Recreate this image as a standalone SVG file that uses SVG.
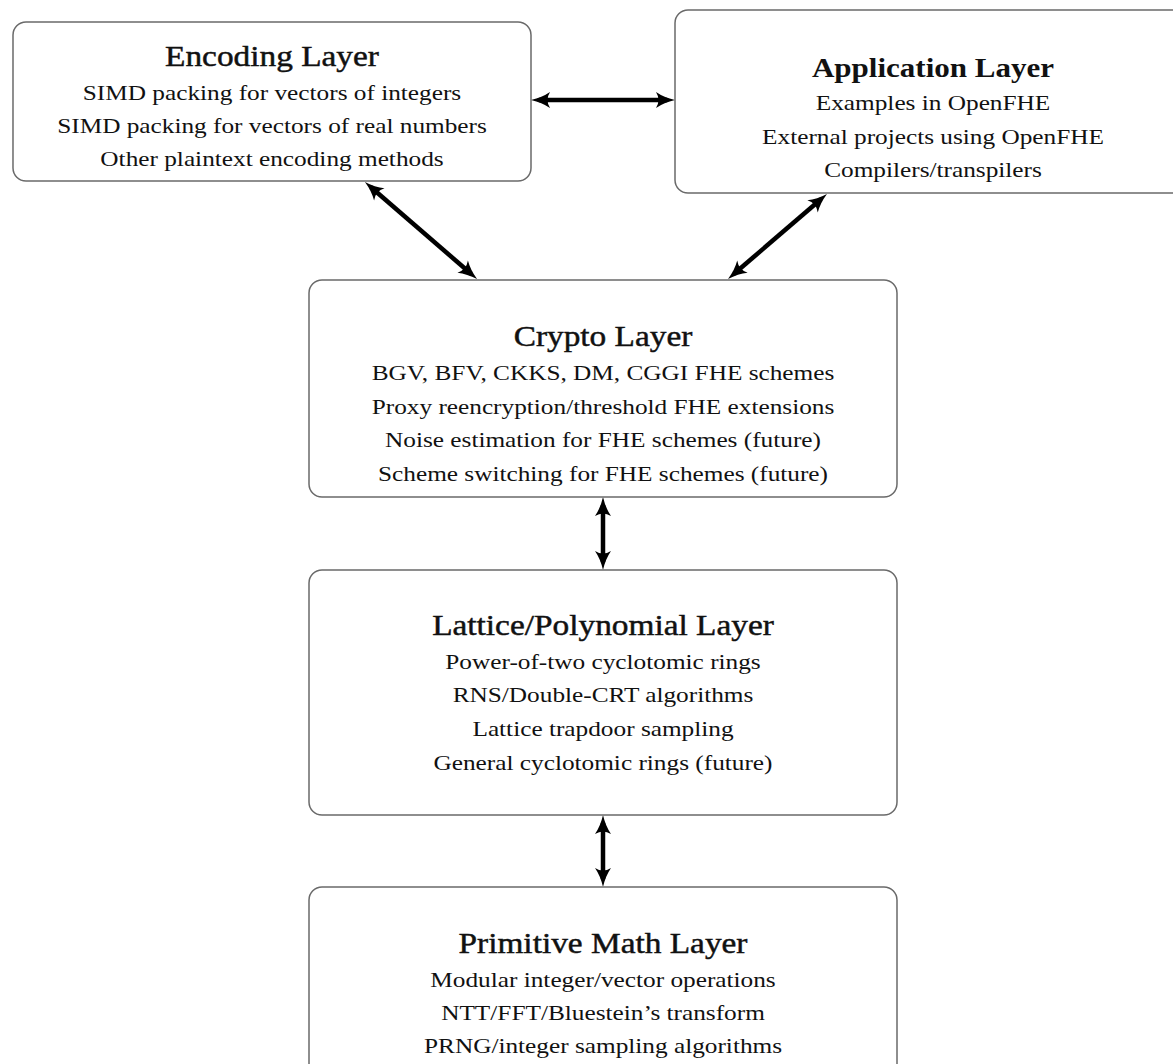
<svg xmlns="http://www.w3.org/2000/svg" width="1173" height="1064" viewBox="0 0 1173 1064">
<defs>
<style>
.box{fill:#ffffff;stroke:#6a6a6a;stroke-width:1.5}
.t{font-family:"Liberation Serif","Times New Roman",serif;fill:#111111;text-anchor:middle}
.title{font-size:29px;stroke:#111111;stroke-width:0.45}
.titleb{font-size:27px;font-weight:bold}
.body{font-size:22px}
.conn{stroke:#000;stroke-width:4.5;fill:none;marker-start:url(#ah);marker-end:url(#ah)}
</style>
<marker id="ah" markerUnits="userSpaceOnUse" markerWidth="20" markerHeight="16" viewBox="0 0 20 16" refX="12" refY="8" orient="auto-start-reverse">
<path d="M20,8 Q9,5.5 1,0 Q6,8 1,16 Q9,10.5 20,8 Z" fill="#000"/>
</marker>
</defs>
<rect width="1173" height="1064" fill="#ffffff"/>

<g id="connectors">
<line class="conn" x1="539" y1="100" x2="667" y2="100"/>
<line class="conn" x1="371" y1="187.2" x2="471" y2="273.8"/>
<line class="conn" x1="820.9" y1="199.2" x2="734.1" y2="273.8"/>
<line class="conn" x1="603" y1="505" x2="603" y2="562"/>
<line class="conn" x1="603" y1="823" x2="603" y2="879"/>
</g>

<g id="encoding-layer">
<rect class="box" x="13" y="22" width="518" height="159" rx="13"/>
<g transform="translate(272 0) scale(1.15 1)">
<text class="t title" x="0" y="66">Encoding Layer</text>
<text class="t body" x="0" y="100">SIMD packing for vectors of integers</text>
<text class="t body" x="0" y="133">SIMD packing for vectors of real numbers</text>
<text class="t body" x="0" y="166">Other plaintext encoding methods</text>
</g>
</g>

<g id="application-layer">
<rect class="box" x="675" y="10" width="530" height="183" rx="13"/>
<g transform="translate(933 0) scale(1.15 1)">
<text class="t titleb" x="0" y="77">Application Layer</text>
<text class="t body" x="0" y="110">Examples in OpenFHE</text>
<text class="t body" x="0" y="144">External projects using OpenFHE</text>
<text class="t body" x="0" y="177">Compilers/transpilers</text>
</g>
</g>

<g id="crypto-layer">
<rect class="box" x="309" y="280" width="588" height="217" rx="13"/>
<g transform="translate(603 0) scale(1.15 1)">
<text class="t title" x="0" y="346">Crypto Layer</text>
<text class="t body" x="0" y="380">BGV, BFV, CKKS, DM, CGGI FHE schemes</text>
<text class="t body" x="0" y="414">Proxy reencryption/threshold FHE extensions</text>
<text class="t body" x="0" y="447">Noise estimation for FHE schemes (future)</text>
<text class="t body" x="0" y="481">Scheme switching for FHE schemes (future)</text>
</g>
</g>

<g id="lattice-polynomial-layer">
<rect class="box" x="309" y="570" width="588" height="245" rx="13"/>
<g transform="translate(603 0) scale(1.15 1)">
<text class="t title" x="0" y="635">Lattice/Polynomial Layer</text>
<text class="t body" x="0" y="669">Power-of-two cyclotomic rings</text>
<text class="t body" x="0" y="702">RNS/Double-CRT algorithms</text>
<text class="t body" x="0" y="736">Lattice trapdoor sampling</text>
<text class="t body" x="0" y="770">General cyclotomic rings (future)</text>
</g>
</g>

<g id="primitive-math-layer">
<rect class="box" x="309" y="887" width="588" height="200" rx="13"/>
<g transform="translate(603 0) scale(1.15 1)">
<text class="t title" x="0" y="953">Primitive Math Layer</text>
<text class="t body" x="0" y="987">Modular integer/vector operations</text>
<text class="t body" x="0" y="1020">NTT/FFT/Bluestein’s transform</text>
<text class="t body" x="0" y="1053">PRNG/integer sampling algorithms</text>
</g>
</g>
</svg>
